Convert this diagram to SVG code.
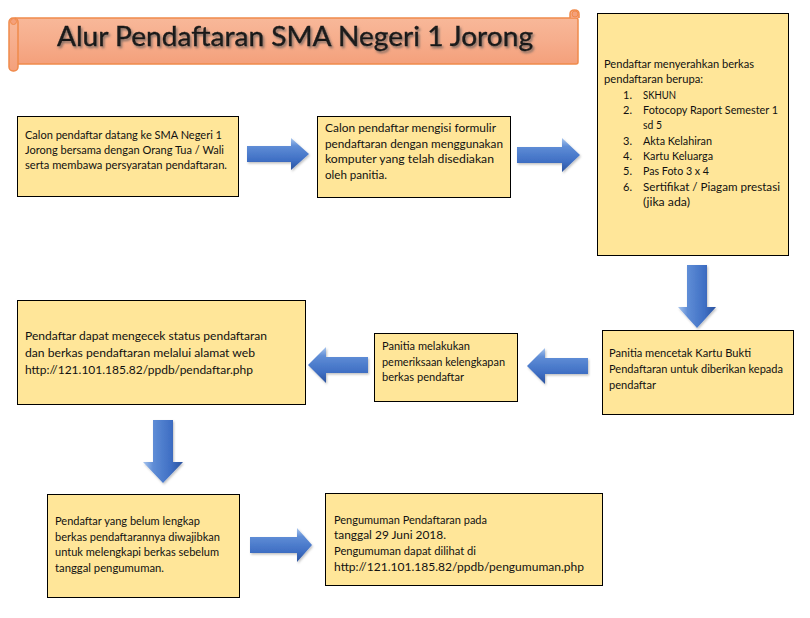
<svg xmlns="http://www.w3.org/2000/svg" width="810" height="618" viewBox="0 0 810 618">
<defs>
<linearGradient id="banner" x1="0" y1="0" x2="0" y2="1">
<stop offset="0" stop-color="#F8B899"/>
<stop offset="0.5" stop-color="#F6AD8C"/>
<stop offset="1" stop-color="#F4A07B"/>
</linearGradient>
<linearGradient id="gh" x1="0" y1="0" x2="0" y2="1">
<stop offset="0" stop-color="#A9C6EE"/>
<stop offset="0.25" stop-color="#5F8DD6"/>
<stop offset="0.7" stop-color="#3F6FC4"/>
<stop offset="1" stop-color="#2B539E"/>
</linearGradient>
<linearGradient id="gv" x1="0" y1="0" x2="1" y2="0">
<stop offset="0" stop-color="#A9C6EE"/>
<stop offset="0.25" stop-color="#5F8DD6"/>
<stop offset="0.7" stop-color="#3F6FC4"/>
<stop offset="1" stop-color="#2B539E"/>
</linearGradient>
<filter id="sh" x="-20%" y="-20%" width="140%" height="140%">
<feDropShadow dx="1" dy="1.5" stdDeviation="1" flood-color="#000" flood-opacity="0.25"/>
</filter>
<filter id="tsh" x="-5%" y="-30%" width="110%" height="160%">
<feDropShadow dx="1.5" dy="2" stdDeviation="0.8" flood-color="#555" flood-opacity="0.7"/>
</filter>
</defs>
<style>
.box{fill:#FFE699;stroke:#000;stroke-width:1}
.t{font-family:Lato,"Liberation Sans",sans-serif;font-size:11px;fill:#111}
.t12{font-size:12px}
.ah{fill:url(#gh);filter:url(#sh)}
.av{fill:url(#gv);filter:url(#sh)}
.title{font-family:Lato,"Liberation Sans",sans-serif;font-size:27px;fill:#1a1a1a;stroke:#1a1a1a;stroke-width:0.4;filter:url(#tsh)}
</style>

<g id="title">
<rect x="14" y="18" width="564" height="46" rx="2" fill="url(#banner)" stroke="#F08A4B" stroke-width="1.5"/>
<rect x="9" y="18" width="9" height="53" rx="4" fill="url(#banner)" stroke="#F08A4B" stroke-width="1.5"/>
<circle cx="13.5" cy="21.5" r="3" fill="#F4A07B" stroke="#F08A4B" stroke-width="1"/>
<path d="M570,18 V14 Q570,10 574.5,10 Q579,10 579,14 V18" fill="url(#banner)" stroke="#F08A4B" stroke-width="1.5"/>
<circle cx="575" cy="14" r="3" fill="#F4A07B" stroke="#F08A4B" stroke-width="1"/>
<text class="title" x="57" y="46" textLength="476" lengthAdjust="spacingAndGlyphs">Alur Pendaftaran SMA Negeri 1 Jorong</text>
</g>

<g id="connectors">
<polygon class="ah" points="247,146 291,146 291,138 309,154 291,170 291,162 247,162"/>
<polygon class="ah" points="517,147 562,147 562,138 580,155 562,172 562,163 517,163"/>
<polygon class="av" points="687,265 707,265 707,307 716,307 697,328 678,307 687,307"/>
<polygon class="ah" points="588,358 545,358 545,348 527,366 545,384 545,374 588,374"/>
<polygon class="ah" points="368,357 326,357 326,347 308,365 326,383 326,373 368,373"/>
<polygon class="av" points="153,420 173,420 173,462 183,462 163,483 143,462 153,462"/>
<polygon class="ah" points="250,537 297,537 297,528 312,545 297,562 297,553 250,553"/>
</g>

<g id="box1">
<rect class="box" x="17.5" y="116.5" width="221" height="80"/>
<text class="t" x="25" y="139" textLength="197" lengthAdjust="spacingAndGlyphs">Calon pendaftar datang ke SMA Negeri 1</text>
<text class="t" x="25" y="154" textLength="199" lengthAdjust="spacingAndGlyphs">Jorong bersama dengan Orang Tua / Wali</text>
<text class="t" x="25" y="169" textLength="202" lengthAdjust="spacingAndGlyphs">serta membawa persyaratan pendaftaran.</text>
</g>

<g id="box2">
<rect class="box" x="317.5" y="116.5" width="193" height="81"/>
<text class="t" x="325" y="132" textLength="171" lengthAdjust="spacingAndGlyphs">Calon pendaftar mengisi formulir</text>
<text class="t" x="325" y="147.5" textLength="178" lengthAdjust="spacingAndGlyphs">pendaftaran dengan menggunakan</text>
<text class="t" x="325" y="163" textLength="169" lengthAdjust="spacingAndGlyphs">komputer yang telah disediakan</text>
<text class="t" x="325" y="178.5" textLength="62" lengthAdjust="spacingAndGlyphs">oleh panitia.</text>
</g>

<g id="box3">
<rect class="box" x="597.5" y="13.5" width="191" height="242"/>
<text class="t" x="604" y="68" textLength="150" lengthAdjust="spacingAndGlyphs">Pendaftar menyerahkan berkas</text>
<text class="t" x="604" y="83.3" textLength="99" lengthAdjust="spacingAndGlyphs">pendaftaran berupa:</text>
<text class="t" x="623" y="98.6">1.</text>
<text class="t" x="643" y="98.6" textLength="33" lengthAdjust="spacingAndGlyphs">SKHUN</text>
<text class="t" x="623" y="114">2.</text>
<text class="t" x="643" y="114" textLength="135" lengthAdjust="spacingAndGlyphs">Fotocopy Raport Semester 1</text>
<text class="t" x="643" y="129.3" textLength="19" lengthAdjust="spacingAndGlyphs">sd 5</text>
<text class="t" x="623" y="144.6">3.</text>
<text class="t" x="643" y="144.6" textLength="69" lengthAdjust="spacingAndGlyphs">Akta Kelahiran</text>
<text class="t" x="623" y="160">4.</text>
<text class="t" x="643" y="160" textLength="70" lengthAdjust="spacingAndGlyphs">Kartu Keluarga</text>
<text class="t" x="623" y="175.3">5.</text>
<text class="t" x="643" y="175.3" textLength="66" lengthAdjust="spacingAndGlyphs">Pas Foto 3 x 4</text>
<text class="t" x="623" y="190.6">6.</text>
<text class="t" x="643" y="190.6" textLength="137" lengthAdjust="spacingAndGlyphs">Sertifikat / Piagam prestasi</text>
<text class="t" x="643" y="206" textLength="47" lengthAdjust="spacingAndGlyphs">(jika ada)</text>
</g>

<g id="box4">
<rect class="box" x="602.5" y="330.5" width="191" height="84"/>
<text class="t" x="609" y="357" textLength="142" lengthAdjust="spacingAndGlyphs">Panitia mencetak Kartu Bukti</text>
<text class="t" x="609" y="373" textLength="174" lengthAdjust="spacingAndGlyphs">Pendaftaran untuk diberikan kepada</text>
<text class="t" x="609" y="388.5" textLength="47" lengthAdjust="spacingAndGlyphs">pendaftar</text>
</g>

<g id="box5">
<rect class="box" x="374.5" y="333.5" width="143" height="68"/>
<text class="t" x="382" y="350" textLength="88" lengthAdjust="spacingAndGlyphs">Panitia melakukan</text>
<text class="t" x="382" y="366" textLength="123" lengthAdjust="spacingAndGlyphs">pemeriksaan kelengkapan</text>
<text class="t" x="382" y="381" textLength="82" lengthAdjust="spacingAndGlyphs">berkas pendaftar</text>
</g>

<g id="box6">
<rect class="box" x="17.5" y="300.5" width="288" height="104"/>
<text class="t t12" x="25" y="339.5" textLength="242" lengthAdjust="spacingAndGlyphs">Pendaftar dapat mengecek status pendaftaran</text>
<text class="t t12" x="25" y="356.5" textLength="230" lengthAdjust="spacingAndGlyphs">dan berkas pendaftaran melalui alamat web</text>
<text class="t t12" x="25" y="373.5" textLength="228" lengthAdjust="spacingAndGlyphs">http://121.101.185.82/ppdb/pendaftar.php</text>
</g>

<g id="box7">
<rect class="box" x="47.5" y="494.5" width="192" height="103"/>
<text class="t" x="55" y="525" textLength="145" lengthAdjust="spacingAndGlyphs">Pendaftar yang belum lengkap</text>
<text class="t" x="55" y="540.5" textLength="165" lengthAdjust="spacingAndGlyphs">berkas pendaftarannya diwajibkan</text>
<text class="t" x="55" y="556" textLength="164" lengthAdjust="spacingAndGlyphs">untuk melengkapi berkas sebelum</text>
<text class="t" x="55" y="571.5" textLength="109" lengthAdjust="spacingAndGlyphs">tanggal pengumuman.</text>
</g>

<g id="box8">
<rect class="box" x="325.5" y="493.5" width="277" height="92"/>
<text class="t" x="334" y="523.5" textLength="153" lengthAdjust="spacingAndGlyphs">Pengumuman Pendaftaran pada</text>
<text class="t" x="334" y="539" textLength="112" lengthAdjust="spacingAndGlyphs">tanggal 29 Juni 2018.</text>
<text class="t" x="334" y="554.5" textLength="142" lengthAdjust="spacingAndGlyphs">Pengumuman dapat dilihat di</text>
<text class="t t12" x="334" y="571" textLength="250" lengthAdjust="spacingAndGlyphs">http://121.101.185.82/ppdb/pengumuman.php</text>
</g>
</svg>
